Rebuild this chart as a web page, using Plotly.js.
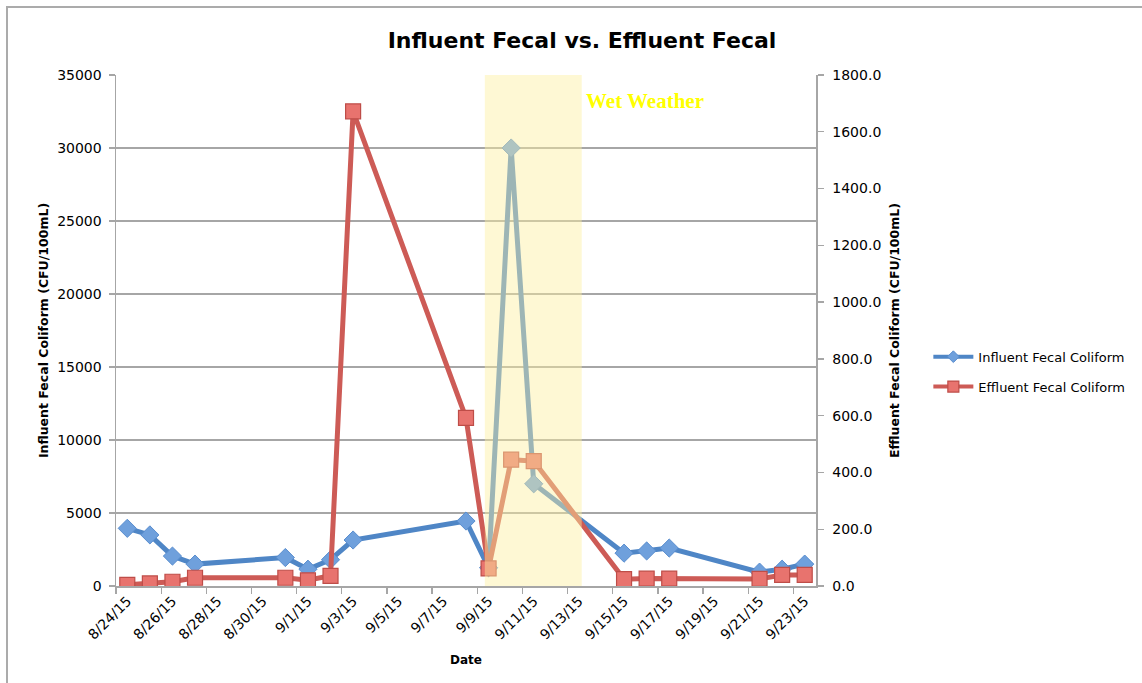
<!DOCTYPE html>
<html>
<head>
<meta charset="utf-8">
<script src="https://cdn.plot.ly/plotly-3.0.1.min.js"></script>
<style>
  html, body { margin: 0; padding: 0; background: #ffffff; }
  #chart { width: 1142px; height: 683px; position: absolute; left: 0; top: 0; }
  #frame { position: absolute; left: 6px; top: 6px; width: 1200px; height: 800px;
           border-left: 2px solid #ababab; border-top: 2px solid #ababab; pointer-events: none; }
</style>
</head>
<body>
<div id="chart"></div>
<div id="frame"></div>
<script>
// ---- data ----
const dates = ['2015-08-24','2015-08-25','2015-08-26','2015-08-27','2015-08-31','2015-09-01',
               '2015-09-02','2015-09-03','2015-09-08','2015-09-09','2015-09-10','2015-09-11',
               '2015-09-15','2015-09-16','2015-09-17','2015-09-21','2015-09-22','2015-09-23'];
const influent = [3950, 3500, 2050, 1500, 1950, 1150, 1800, 3150, 4450, 1250, 30000, 7000,
                  2250, 2400, 2600, 950, 1150, 1500];
const effluent = [4, 9, 15, 29, 29, 20, 36, 1672, 592, 62, 445, 440, 24, 26, 26, 25, 39, 39];
const tickDates = ['2015-08-24','2015-08-26','2015-08-28','2015-08-30','2015-09-01','2015-09-03',
                   '2015-09-05','2015-09-07','2015-09-09','2015-09-11','2015-09-13','2015-09-15',
                   '2015-09-17','2015-09-19','2015-09-21','2015-09-23'];
const tickLabels = ['8/24/15','8/26/15','8/28/15','8/30/15','9/1/15','9/3/15','9/5/15','9/7/15',
                    '9/9/15','9/11/15','9/13/15','9/15/15','9/17/15','9/19/15','9/21/15','9/23/15'];
const seriesNames = ['Influent Fecal Coliform', 'Effluent Fecal Coliform'];
const wetStart = '2015-09-08 20:00';
const wetEnd = '2015-09-13 03:00';
const wetLabel = 'Wet Weather';

const FONT = 'DejaVu Sans, Verdana, sans-serif';
const GRID = '#a6a6a6';
const BLUE = '#4F86C6', RED = '#CD5B56';
const blueMarker = { symbol: 'diamond', color: '#6FA0DC', line: { color: '#5A8ECF', width: 1 } };
const redMarker = { symbol: 'square', color: '#E8736E', line: { color: '#BE4D48', width: 1.2 } };

const traces = [
  {
    x: dates, y: influent, name: seriesNames[0], type: 'scatter', mode: 'lines+markers',
    yaxis: 'y', showlegend: false,
    line: { color: BLUE, width: 5 },
    marker: Object.assign({ size: 14 }, blueMarker)
  },
  {
    x: dates, y: effluent, name: seriesNames[1], type: 'scatter', mode: 'lines+markers',
    yaxis: 'y2', showlegend: false,
    line: { color: RED, width: 5 },
    marker: Object.assign({ size: 15 }, redMarker)
  },
  // legend entries (smaller legend symbols, as in the original)
  {
    x: [null], y: [null], name: seriesNames[0], type: 'scatter', mode: 'lines+markers',
    yaxis: 'y', legendgroup: 'a', line: { color: BLUE, width: 4 },
    marker: Object.assign({ size: 9 }, blueMarker)
  },
  {
    x: [null], y: [null], name: seriesNames[1], type: 'scatter', mode: 'lines+markers',
    yaxis: 'y2', legendgroup: 'b', line: { color: RED, width: 4 },
    marker: Object.assign({ size: 11 }, redMarker)
  }
];

const layout = {
  width: 1142, height: 683,
  margin: { l: 116, r: 326, t: 75, b: 97 },
  paper_bgcolor: 'rgba(0,0,0,0)', plot_bgcolor: '#ffffff',
  font: { family: FONT, color: '#000000', size: 13 },
  title: {
    text: '<b>Influent Fecal vs. Effluent Fecal</b>',
    font: { family: FONT, size: 22, color: '#000000' },
    x: 582 / 1142, xref: 'container', xanchor: 'center',
    y: 1 - 40 / 683, yref: 'container', yanchor: 'middle'
  },
  showlegend: true,
  legend: {
    x: 1.1605, xanchor: 'left', y: 0.478, yanchor: 'top',
    font: { family: FONT, size: 13, color: '#000000' },
    itemwidth: 40, tracegroupgap: 10, traceorder: 'grouped', bgcolor: 'rgba(0,0,0,0)'
  },
  xaxis: {
    type: 'date',
    range: ['2015-08-23 12:00', '2015-09-23 12:00'],
    tickmode: 'array', tickvals: tickDates, ticktext: tickLabels,
    tickangle: -45, ticks: '', showgrid: false,
    tickfont: { family: FONT, size: 14, color: '#000000' },
    showline: true, linecolor: GRID, linewidth: 1.5, zeroline: false,
    minor: { tickmode: 'linear', tick0: '2015-08-23 12:00', dtick: 172800000,
             ticks: 'outside', ticklen: 6, tickwidth: 1.3, tickcolor: GRID, showgrid: false },
    title: { text: '<b>Date</b>', font: { family: FONT, size: 12, color: '#000000' }, standoff: 14 }
  },
  yaxis: {
    range: [0, 35000], tickmode: 'linear', tick0: 0, dtick: 5000, tickformat: 'd',
    ticks: 'outside', ticklen: 6, tickcolor: GRID, tickwidth: 1.3,
    showgrid: true, gridcolor: GRID, gridwidth: 1.5, zeroline: false,
    showline: true, linecolor: GRID, linewidth: 1.5,
    tickfont: { family: FONT, size: 14, color: '#000000' }, ticklabelstandoff: 4,
    title: { text: '<b>Influent Fecal Coliform (CFU/100mL)</b>',
             font: { family: FONT, size: 12.5, color: '#000000' }, standoff: 6 }
  },
  yaxis2: {
    overlaying: 'y', side: 'right', anchor: 'x',
    range: [0, 1800], tickmode: 'linear', tick0: 0, dtick: 200, tickformat: '.1f',
    ticks: 'outside', ticklen: 6, tickcolor: GRID, tickwidth: 1.3,
    showgrid: false, zeroline: false, showline: true, linecolor: GRID, linewidth: 1.5,
    tickfont: { family: FONT, size: 14, color: '#000000' }, ticklabelstandoff: 6,
    title: { text: '<b>Effluent Fecal Coliform (CFU/100mL)</b>',
             font: { family: FONT, size: 12.5, color: '#000000' }, standoff: 10 }
  },
  shapes: [
    { type: 'rect', xref: 'x', yref: 'paper', x0: wetStart, x1: wetEnd, y0: 0, y1: 1,
      layer: 'above', fillcolor: 'rgb(253,240,160)', opacity: 0.45, line: { width: 0 } }
  ],
  annotations: [
    { text: '<b>' + wetLabel + '</b>', xref: 'x', yref: 'paper', x: wetEnd, y: 0.95,
      xanchor: 'left', yanchor: 'middle', xshift: 2, showarrow: false,
      font: { family: 'Liberation Serif, Times New Roman, serif', size: 21, color: '#FFFF00' } }
  ]
};

Plotly.newPlot('chart', traces, layout, { displayModeBar: false, staticPlot: true });
</script>
</body>
</html>
